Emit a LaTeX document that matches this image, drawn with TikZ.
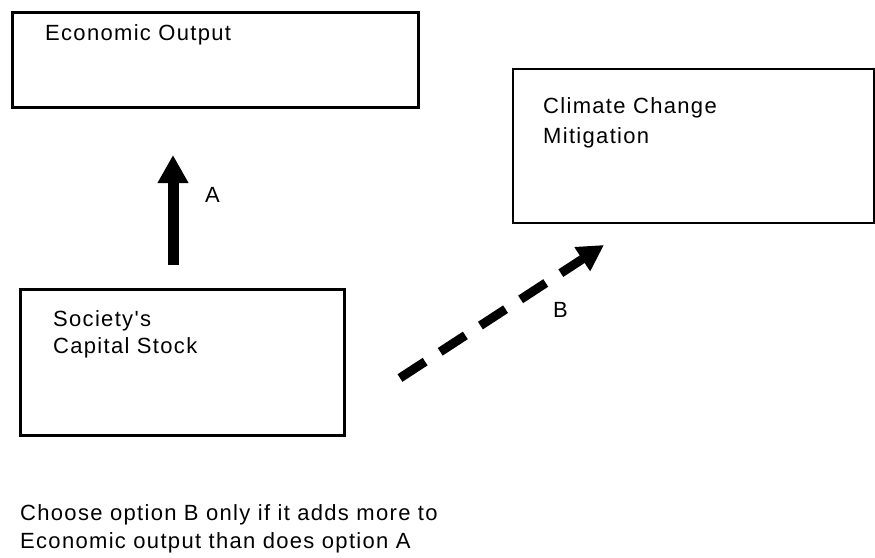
\documentclass[tikz,border=0pt]{standalone}
\usepackage{fontspec}
\setmainfont{Liberation Sans}
\newfontfamily\boxfont[LetterSpace=6]{Liberation Sans}
\usetikzlibrary{arrows.meta,positioning}

\begin{document}
\begin{tikzpicture}[x=1pt,y=-1pt,
		box/.style={draw, line width=2.5pt, inner sep=0pt, anchor=north west},
		txt/.style={inner sep=0pt, anchor=base west, align=left, font=\boxfont\fontsize{22}{28}\selectfont},
		bigarrow/.style={line width=11pt, -{Triangle[width=29pt,length=28pt]}}]
	\useasboundingbox (0,0) rectangle (875,557);
	\node [box, minimum width=406pt, minimum height=95pt] (econ) at (11,11) {};
	\node [box, line width=1.5pt, minimum width=361pt, minimum height=154pt] (climate) at (512,68) {};
	\node [box, minimum width=324pt, minimum height=146pt] (capital) at (19,288) {};
	% base of a two-line node is its last line
	\node [txt] (econtxt) at (45,40) {Economic Output};
	\node [txt, font=\boxfont\fontsize{22}{30}\selectfont] (climatetxt) at (543,143) {Climate Change\\Mitigation};
	\node [txt, font=\boxfont\fontsize{22}{27}\selectfont] (capitaltxt) at (53,353) {Society's\\Capital Stock};
	\coordinate (afrom) at (173,265);
	\coordinate (ato) at (173,155);
	\coordinate (bfrom) at (400,378);
	\coordinate (bto) at (604,245);
	\draw [bigarrow] (afrom) to (ato);
	\draw [bigarrow, line width=9pt, -{Triangle[width=27pt,length=26pt]}, dash pattern=on 30pt off 18pt] (bfrom) to (bto);
	\node [txt] (alabel) at (205,202) {A};
	\node [txt] (blabel) at (553,317) {B};
	\node [txt] (note) at (20,548) {Choose option B only if it adds more to\\Economic output than does option A};
\end{tikzpicture}
\end{document}
